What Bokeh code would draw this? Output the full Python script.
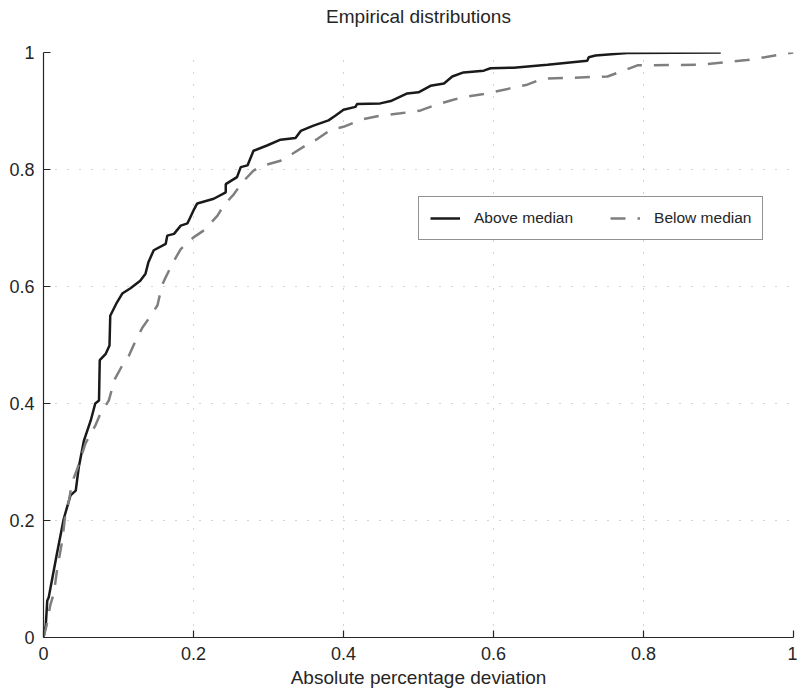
from bokeh.plotting import figure
from bokeh.models import Range1d, FixedTicker, Legend, LegendItem, Title
from bokeh.embed import file_html
from bokeh.resources import INLINE

# ---- data ----
above_x = [0.0, 0.003, 0.005, 0.007, 0.012, 0.018, 0.027, 0.036, 0.043, 0.047, 0.054,
           0.063, 0.069, 0.074, 0.075, 0.083, 0.088, 0.089, 0.098, 0.105, 0.116, 0.129,
           0.136, 0.140, 0.147, 0.163, 0.165, 0.174, 0.183, 0.192, 0.200, 0.205, 0.227,
           0.243, 0.243, 0.258, 0.263, 0.272, 0.280, 0.298, 0.316, 0.336, 0.343, 0.360,
           0.380, 0.389, 0.400, 0.416, 0.418, 0.449, 0.463, 0.485, 0.500, 0.516, 0.534,
           0.545, 0.560, 0.587, 0.596, 0.627, 0.672, 0.725, 0.727, 0.736, 0.778, 0.903]
above_y = [0.0, 0.02, 0.063, 0.069, 0.103, 0.144, 0.203, 0.243, 0.251, 0.291, 0.337,
           0.371, 0.400, 0.405, 0.474, 0.485, 0.499, 0.550, 0.573, 0.588, 0.597, 0.610,
           0.622, 0.642, 0.662, 0.673, 0.687, 0.690, 0.704, 0.708, 0.730, 0.742, 0.750,
           0.761, 0.775, 0.787, 0.804, 0.807, 0.832, 0.841, 0.851, 0.854, 0.866, 0.875,
           0.884, 0.892, 0.902, 0.907, 0.912, 0.913, 0.917, 0.930, 0.932, 0.943, 0.947,
           0.959, 0.966, 0.969, 0.973, 0.974, 0.979, 0.986, 0.992, 0.995, 0.999, 1.0]

below_x = [0.0, 0.004, 0.009, 0.014, 0.018, 0.020, 0.025, 0.029, 0.034, 0.038, 0.045,
           0.056, 0.069, 0.076, 0.087, 0.092, 0.094, 0.105, 0.114, 0.123, 0.132, 0.143,
           0.152, 0.158, 0.163, 0.174, 0.183, 0.200, 0.214, 0.232, 0.240, 0.254, 0.265,
           0.280, 0.289, 0.316, 0.332, 0.352, 0.365, 0.383, 0.400, 0.423, 0.445, 0.476,
           0.503, 0.520, 0.543, 0.560, 0.587, 0.627, 0.645, 0.665, 0.752, 0.767, 0.792,
           0.876, 0.938, 1.0]
below_y = [0.0, 0.02, 0.055, 0.077, 0.115, 0.129, 0.166, 0.209, 0.234, 0.265, 0.288,
           0.332, 0.362, 0.383, 0.405, 0.428, 0.439, 0.465, 0.482, 0.508, 0.530, 0.550,
           0.568, 0.602, 0.616, 0.644, 0.664, 0.684, 0.696, 0.721, 0.738, 0.758, 0.778,
           0.798, 0.805, 0.815, 0.827, 0.843, 0.852, 0.868, 0.873, 0.885, 0.891, 0.896,
           0.901, 0.909, 0.918, 0.924, 0.929, 0.940, 0.945, 0.955, 0.959, 0.966, 0.978,
           0.979, 0.987, 1.0]

tick_vals = [0, 0.2, 0.4, 0.6, 0.8, 1]
tick_labels = ["0", "0.2", "0.4", "0.6", "0.8", "1"]
grid_vals = [0.2, 0.4, 0.6, 0.8]
series_names = ["Above median", "Below median"]
title_text = "Empirical distributions"

FONT = "Liberation Sans"
TXT = "#262626"

p = figure(width=797, height=695, output_backend="svg", toolbar_location=None,
           x_range=Range1d(0, 1), y_range=Range1d(0, 1),
           min_border_left=43, min_border_right=4, min_border_top=52, min_border_bottom=58)
p.outline_line_color = None
p.background_fill_color = "white"
p.border_fill_color = "white"

# invisible spacer panel next to the frame, then the real title above it
spacer = Title(text=" ", text_font=FONT, text_font_size="10px", text_color="white", standoff=7)
p.add_layout(spacer, "above")
main_title = Title(text=title_text, align="center", vertical_align="top", standoff=8,
                   text_font=FONT, text_font_size="19px", text_font_style="normal",
                   text_color=TXT)
p.add_layout(main_title, "above")

for ax in (p.xaxis[0], p.yaxis[0]):
    ax.ticker = FixedTicker(ticks=tick_vals)
    ax.major_label_overrides = {v: l for v, l in zip(tick_vals, tick_labels)}
    ax.minor_tick_line_color = None
    ax.major_tick_in = 7
    ax.major_tick_out = 0
    ax.axis_line_color = TXT
    ax.axis_line_width = 1.2
    ax.major_tick_line_color = TXT
    ax.major_tick_line_width = 1.2
    ax.major_label_text_font = FONT
    ax.major_label_text_font_size = "18px"
    ax.major_label_text_color = TXT
    ax.major_label_standoff = 9

p.xaxis.axis_label = "Absolute percentage deviation"
p.xaxis.axis_label_text_font = FONT
p.xaxis.axis_label_text_font_size = "19px"
p.xaxis.axis_label_text_font_style = "normal"
p.xaxis.axis_label_text_color = TXT
p.xaxis.axis_label_standoff = 4

for g in (p.xgrid[0], p.ygrid[0]):
    g.ticker = FixedTicker(ticks=grid_vals)
    g.grid_line_color = "#a8a8a8"
    g.grid_line_dash = "1 11"
    g.grid_line_width = 1

r1 = p.line(above_x, above_y, line_color="#1a1a1a", line_width=2.5)
r2 = p.line(below_x, below_y, line_color="#7f7f7f", line_width=2.5, line_dash="15 12")

legend = Legend(items=[LegendItem(label=series_names[0], renderers=[r1]),
                       LegendItem(label=series_names[1], renderers=[r2])],
                orientation="horizontal", location=(375, 397))
legend.margin = 0
legend.padding = 11
legend.spacing = 37
legend.glyph_width = 30
legend.label_standoff = 14
legend.label_text_font = FONT
legend.label_text_font_size = "15.5px"
legend.label_text_color = TXT
legend.border_line_color = TXT
legend.border_line_width = 1
legend.background_fill_color = "white"
legend.background_fill_alpha = 1
p.add_layout(legend, "center")

open("out.html", "w").write(file_html(p, INLINE))
